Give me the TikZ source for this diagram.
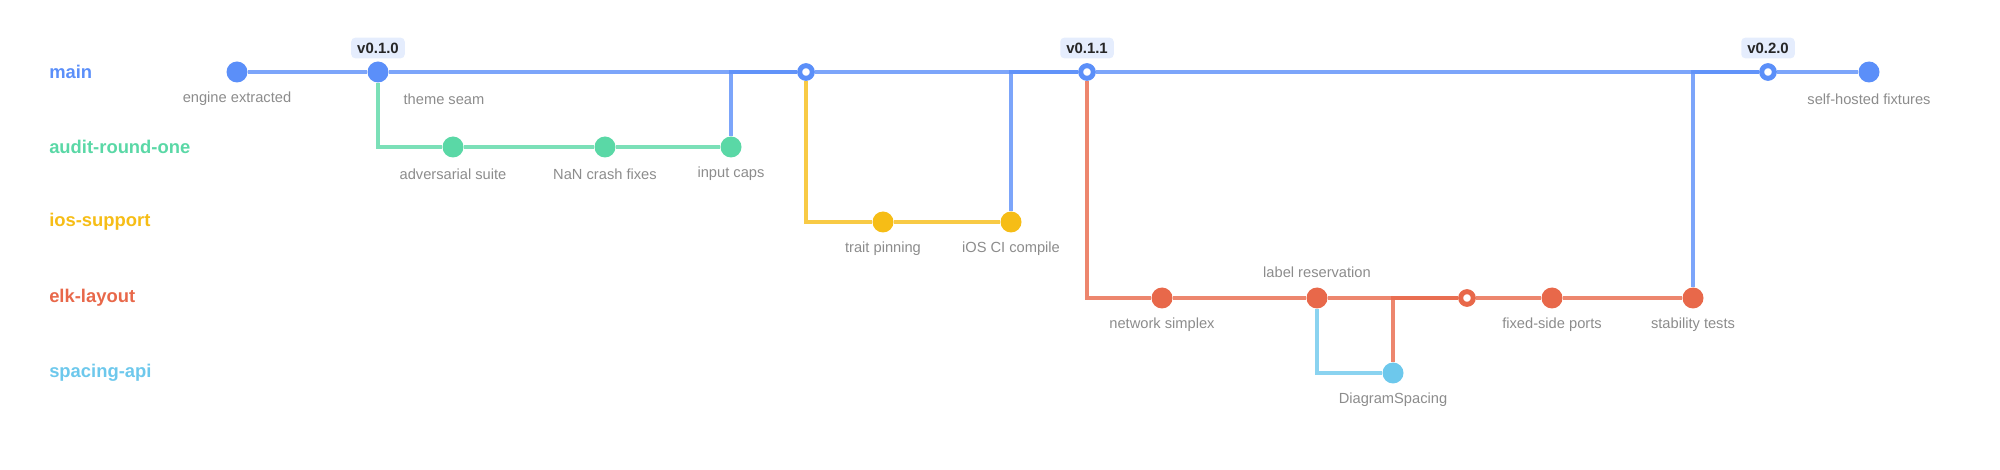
\documentclass[tikz,border=0pt]{standalone}
\usepackage{fontspec}
\setmainfont{Liberation Sans}
\usetikzlibrary{backgrounds}

\definecolor{mainc}{HTML}{5B8FF9}
\definecolor{auditc}{HTML}{5AD8A6}
\definecolor{iosc}{HTML}{F6BD16}
\definecolor{elkc}{HTML}{E8684A}
\definecolor{spacingc}{HTML}{6DC8EC}
\definecolor{msgc}{HTML}{8C8C8C}
\definecolor{tagbg}{HTML}{E5EDFD}
\definecolor{tagtxt}{HTML}{262626}

\begin{document}
\begin{tikzpicture}[x=0.75pt, y=-0.75pt, line cap=round, line join=round,
    dot/.style={circle, fill=#1, inner sep=0pt, minimum size=15.75pt},
    ring/.style={circle, draw=#1, fill=white, line width=3.75pt, inner sep=0pt, minimum size=9.5pt},
    lane/.style={draw=#1, draw opacity=0.8, line width=3.2pt},
    lanename/.style={anchor=west, inner sep=0pt, text=#1, font=\bfseries\fontsize{13.8}{16}\selectfont},
    msg/.style={text=msgc, inner sep=0pt, font=\fontsize{11}{13}\selectfont},
    tag/.style={fill=tagbg, text=tagtxt, rounded corners=3pt, inner xsep=4.5pt, inner ysep=0pt,
      minimum height=15.5pt, font=\bfseries\fontsize{11.2}{12}\selectfont}]
    \useasboundingbox (0,0) rectangle (2000,470);

    \node[lanename=mainc] (n1) at (49,72) {main};
    \node[lanename=auditc] (n2) at (49,147) {audit-round-one};
    \node[lanename=iosc] (n3) at (49,222) {ios-support};
    \node[lanename=elkc] (n4) at (49,298) {elk-layout};
    \node[lanename=spacingc] (n5) at (49,373) {spacing-api};

    \node[dot=mainc] (c1) at (237,72) {};
    \node[dot=mainc] (c2) at (378,72) {};
    \node[ring=mainc] (m1) at (806,72) {};
    \node[ring=mainc] (c3) at (1087,72) {};
    \node[ring=mainc] (c4) at (1768,72) {};
    \node[dot=mainc] (c5) at (1869,72) {};
    \node[dot=auditc] (a1) at (453,147) {};
    \node[dot=auditc] (a2) at (605,147) {};
    \node[dot=auditc] (a3) at (731,147) {};
    \node[dot=iosc] (i1) at (883,222) {};
    \node[dot=iosc] (i2) at (1011,222) {};
    \node[dot=elkc] (e1) at (1162,298) {};
    \node[dot=elkc] (e2) at (1317,298) {};
    \node[ring=elkc] (e3) at (1467,298) {};
    \node[dot=elkc] (e4) at (1552,298) {};
    \node[dot=elkc] (e5) at (1693,298) {};
    \node[dot=spacingc] (s1) at (1393,373) {};

    \node[tag] (t1) at (378,48) {v0.1.0};
    \node[tag] (t2) at (1087,48) {v0.1.1};
    \node[tag] (t3) at (1768,48) {v0.2.0};

    \begin{scope}[msg]
      \node (l1) at (237,99) {engine extracted};
      \node (l2) at (444,99) {theme seam};
      \node (l3) at (1869,99) {self-hosted fixtures};
      \node (l4) at (453,174) {adversarial suite};
      \node (l5) at (605,174) {NaN crash fixes};
      \node (l6) at (731,174) {input caps};
      \node (l7) at (883,249) {trait pinning};
      \node (l8) at (1011,249) {iOS CI compile};
      \node (l9) at (1162,325) {network simplex};
      \node (l10) at (1317,272) {label reservation};
      \node (l11) at (1552,325) {fixed-side ports};
      \node (l12) at (1693,325) {stability tests};
      \node (l13) at (1393,400) {DiagramSpacing};
    \end{scope}

    \begin{scope}[on background layer]
      \draw[lane=mainc] (c1) -- (c2) -- (m1) -- (c3) -- (c4) -- (c5);
      \draw[lane=auditc] (a1) -- (a2) -- (a3);
      \draw[lane=iosc] (i1) -- (i2);
      \draw[lane=elkc] (e1) -- (e2) -- (e3) -- (e4) -- (e5);
      \draw[lane=auditc] (c2) |- (a1);
      \draw[lane=iosc] (m1) |- (i1);
      \draw[lane=elkc] (c3) |- (e1);
      \draw[lane=spacingc] (e2) |- (s1);
      \draw[lane=mainc] (a3) |- (m1);
      \draw[lane=mainc] (i2) |- (c3);
      \draw[lane=mainc] (e5) |- (c4);
      \draw[lane=elkc] (s1) |- (e3);
    \end{scope}
\end{tikzpicture}
\end{document}
